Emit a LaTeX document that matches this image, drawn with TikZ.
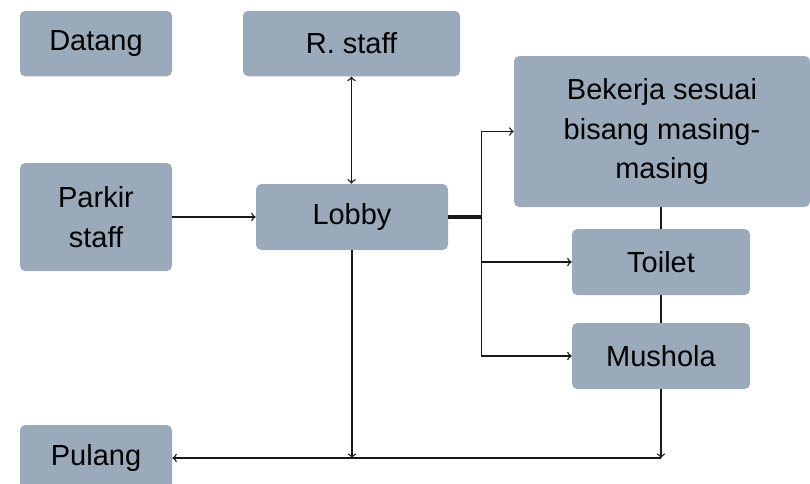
\documentclass[tikz,border=0pt]{standalone}
\usepackage{fontspec}
\setmainfont{Liberation Sans}
\usetikzlibrary{arrows, positioning}
\definecolor{boxgray}{RGB}{155, 170, 187}
\definecolor{linegray}{RGB}{25, 25, 25}

\tikzset{
  stepbox/.style={rectangle, fill=boxgray, rounded corners=3pt,
    align=center, font=\fontsize{16.5pt}{22.7pt}\selectfont,
    minimum width=3.04cm, minimum height=1.31cm, inner sep=2pt},
  link/.style={thick, draw=linegray}
}

\begin{document}
\begin{tikzpicture}[node distance=2.2cm, auto]
\useasboundingbox (0,0) rectangle (16.2,-9.66);

% Left column
\node[stepbox] (datang) at (1.92,-0.87) {Datang};
\node[stepbox, minimum height=2.16cm,
      below of=datang, yshift=-1.27cm] (parkir) {Parkir\\staff};
\node[stepbox, minimum height=1.32cm,
      below of=parkir, yshift=-2.62cm] (pulang) {Pulang};

% Lobby and staff room
\node[stepbox, minimum width=3.84cm, minimum height=1.32cm,
      right of=parkir, xshift=2.92cm] (lobby) {Lobby};
\node[stepbox, minimum width=4.34cm,
      above of=lobby, yshift=1.27cm, xshift=-0.01cm] (rstaff) {R. staff};

% Right column
\node[stepbox, minimum width=5.92cm, minimum height=3.02cm,
      right of=lobby, xshift=4.0cm, yshift=1.71cm] (bekerja)
      {Bekerja sesuai\\bisang masing-\\masing};
\node[stepbox, minimum width=3.56cm, minimum height=1.32cm,
      below of=bekerja, yshift=-0.41cm, xshift=-0.02cm] (toilet) {Toilet};
\node[stepbox, minimum width=3.56cm, minimum height=1.32cm,
      below of=toilet, yshift=0.32cm] (mushola) {Mushola};

% Arrows
\draw[link, <->] (rstaff.south) -- (rstaff.south |- lobby.north);
\draw[link, ->] (parkir) -- (lobby);
\draw[link, line width=1.8pt] (lobby.east) -- ++(0.66,0) coordinate (split);
\draw[link] (split |- bekerja.west) -- (split |- mushola.west);
\draw[link, ->] (split |- bekerja.west) -- (bekerja.west);
\draw[link, ->] (split |- toilet.west) -- (toilet.west);
\draw[link, ->] (split |- mushola.west) -- (mushola.west);

\draw[link] (toilet.north) -- (toilet.north |- bekerja.south);
\draw[link] (toilet) -- (mushola);
\coordinate (back) at (mushola.south |- pulang.east);
\draw[link, ->] (mushola.south) -- (back);
\draw[link, ->] (lobby.south) -- (lobby.south |- pulang.east);
\draw[link, ->] (back) -- (pulang.east);

\end{tikzpicture}
\end{document}
